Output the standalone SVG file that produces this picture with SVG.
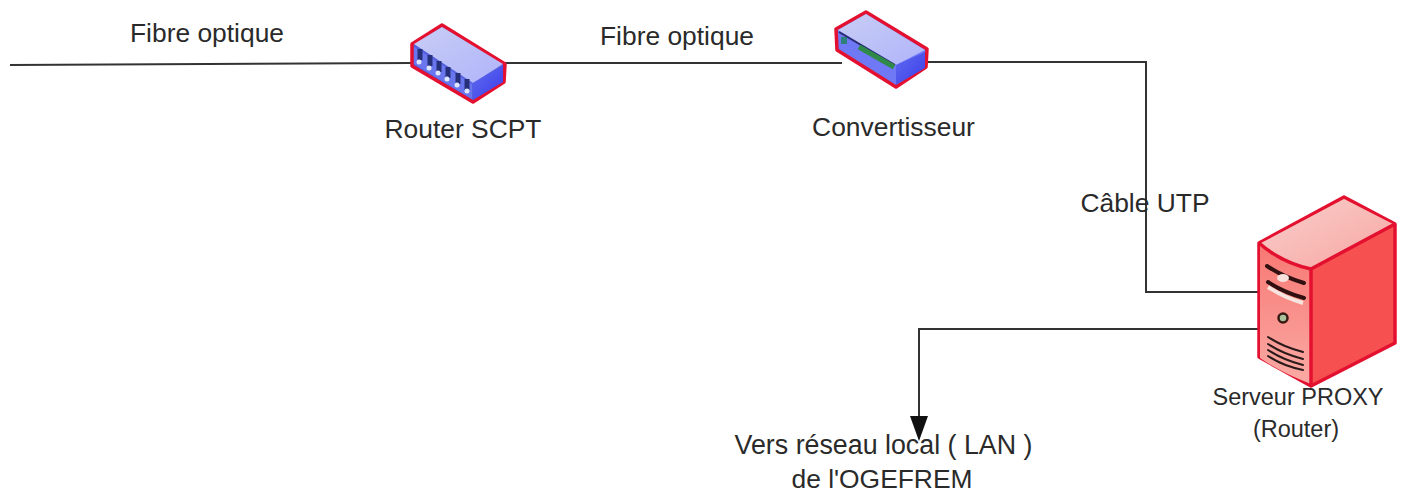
<svg xmlns="http://www.w3.org/2000/svg" width="1408" height="493" viewBox="0 0 1408 493">
<defs>
<style>
text{font-family:"Liberation Sans",Arial,sans-serif;font-size:26.400px;fill:#2a2a2a;text-anchor:middle}
.s{font-size:23.500px}
.c{fill:none;stroke:#333;stroke-width:2}
.o{stroke:#e3102f;stroke-width:3.500;stroke-linejoin:round}
.d{stroke:#2a1a1a;stroke-width:2;fill:none;stroke-linecap:round}
.p{stroke:#26307a;stroke-width:5;fill:none}
</style>
<linearGradient id="top" x1="0" y1="0" x2="1" y2="1"><stop offset="0" stop-color="#c8cdf5"/><stop offset="1" stop-color="#b0b4fa"/></linearGradient>
<linearGradient id="side" x1="0" y1="0" x2="1" y2="1"><stop offset="0" stop-color="#5f6cf0"/><stop offset="1" stop-color="#3c3ce8"/></linearGradient>
<linearGradient id="stop" x1="0" y1="0" x2="1" y2="1"><stop offset="0" stop-color="#f8cfcc"/><stop offset="1" stop-color="#f8a6a1"/></linearGradient>
<linearGradient id="sfront" x1="0" y1="0" x2="0" y2="1"><stop offset="0" stop-color="#f77873"/><stop offset="1" stop-color="#fbaaa5"/></linearGradient>
</defs>
<g id="connectors">
<path class="c" d="M10 65L412 63"/>
<path class="c" d="M503 63H842"/>
<path class="c" d="M928 62H1146V292H1258"/>
<path class="c" d="M1258 329H919V416"/>
<polygon points="910,416 928,416 919,441" fill="#111"/>
</g>
<g id="router">
<polygon points="412,44 442,25 505,64 504,82 473,102 412,66" fill="#5560e0" class="o"/>
<polygon points="414,44 442,27 503,64 473,83" fill="url(#top)"/>
<polygon points="473,83 503,66 503,82 473,100" fill="url(#side)"/>
<polygon points="414,47 472,84 472,99 414,64" fill="#6a76ee"/>
<path class="p" d="M420 49V60M430 55V66M439 61V72M448 67V78M458 73V84M467 79V90"/>
<g fill="#dfe6ff"><circle cx="419" cy="62" r="2.500"/><circle cx="429" cy="68" r="2.500"/><circle cx="438" cy="73" r="2.500"/><circle cx="447" cy="79" r="2.500"/><circle cx="457" cy="85" r="2.500"/><circle cx="467" cy="91" r="2.500"/></g>
<text x="463" y="138">Router SCPT</text>
</g>
<g id="convertisseur">
<polygon points="836,29 866,12 927,49 926,67 896,87 837,50" fill="#6f78f5" class="o"/>
<polygon points="838,30 866,14 925,50 896,65" fill="url(#top)"/>
<polygon points="896,65 925,52 925,68 896,85" fill="url(#side)"/>
<path d="M839 32L895 65" stroke="#2a2a70" stroke-width="2"/>
<path d="M859 47L894 67" stroke="#2f8a4a" stroke-width="5"/>
<rect x="841" y="37" width="6" height="7" fill="#2f7f7a"/>
<text x="893.500" y="136">Convertisseur</text>
</g>
<g id="serveur">
<polygon points="1259,243 1344,197 1395,224 1395,343 1311,386 1259,357" fill="#f65050" class="o"/>
<path d="M1261 243L1344 199 1393 224 1311 268Q1282 262 1261 243Z" fill="url(#stop)"/>
<path d="M1260 245Q1282 262 1311 268V384Q1280 372 1260 358Z" fill="url(#sfront)"/>
<path class="o" fill="none" d="M1259 243Q1282 263 1311 269V386M1311 269L1395 224"/>
<path d="M1267 266Q1283 277 1304 283M1268 282Q1283 292 1304 298" stroke="#301010" stroke-width="4" fill="none" stroke-linecap="round"/>
<path d="M1268 287Q1285 298 1303 303" stroke="#f8e4df" stroke-width="4" fill="none"/>
<ellipse cx="1283" cy="278" rx="6" ry="4" fill="#f8e0dc"/>
<circle cx="1283" cy="318" r="4.500" fill="#a7c29c" stroke="#3a1a14" stroke-width="2.500"/>
<path class="d" d="M1268 337Q1283 347 1303 352M1268 344Q1283 354 1303 359M1268 350Q1283 360 1303 365M1268 356Q1283 366 1303 370"/>
<text class="s" x="1298" y="405">Serveur PROXY</text>
<text class="s" x="1296" y="437">(Router)</text>
</g>
<g id="labels">
<text x="207" y="42">Fibre optique</text>
<text x="677" y="45">Fibre optique</text>
<text x="1145" y="212">Câble UTP</text>
<text x="883.500" y="454" style="font-size:26.800px">Vers réseau local ( LAN )</text>
<text x="882" y="488">de l'OGEFREM</text>
</g>
</svg>
